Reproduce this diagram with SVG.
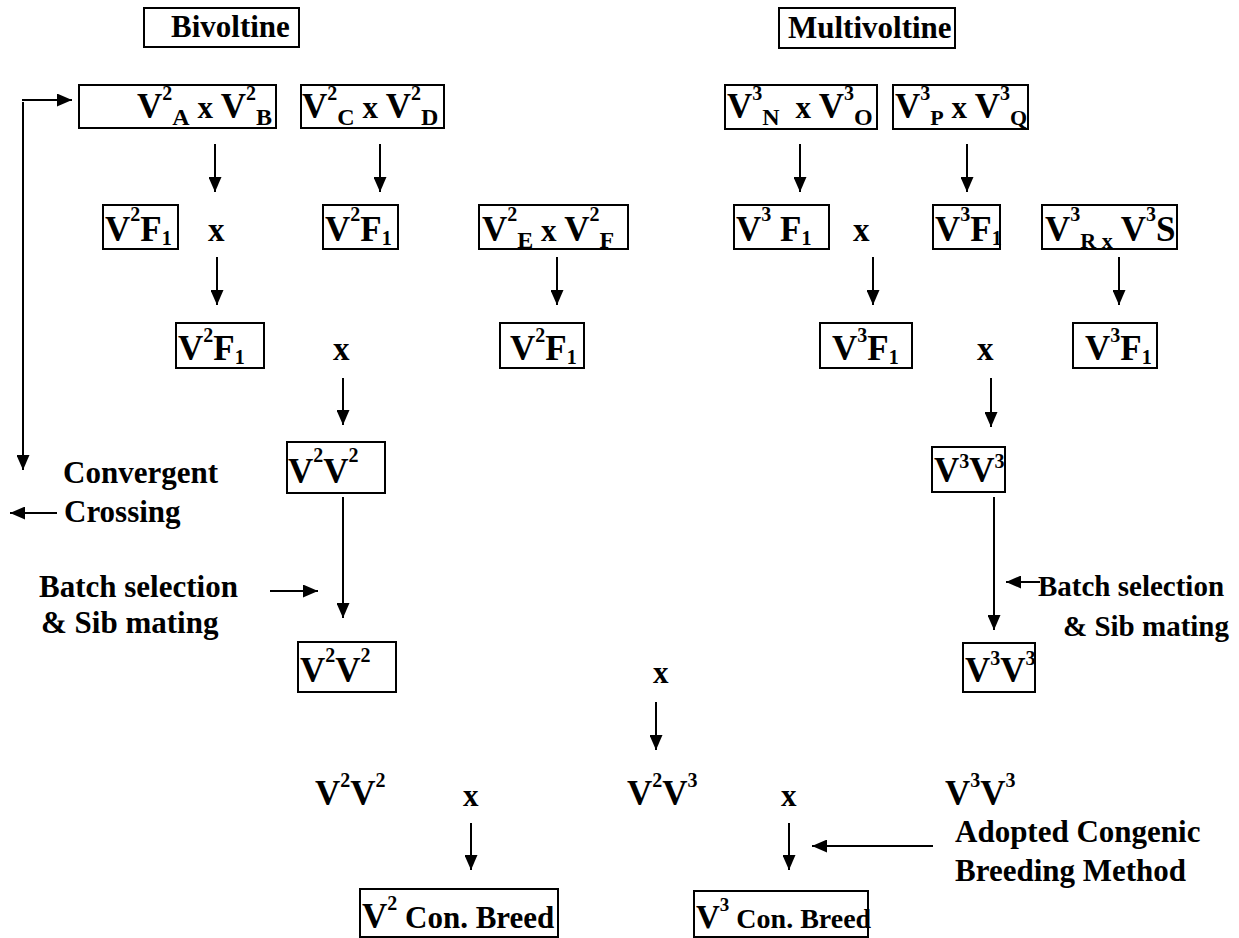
<svg xmlns="http://www.w3.org/2000/svg" width="1239" height="938" viewBox="0 0 1239 938" font-family="Liberation Serif, Times New Roman, DejaVu Serif, serif" font-weight="bold">
<style>
.t{font-family:'Liberation Serif','Times New Roman','DejaVu Serif',serif;font-weight:bold;fill:#000}
.l{font-size:31px}
.lr{font-size:29px}
.x{font-size:33px}
.v{font-size:35px}
.s{font-size:20px}
.u{font-size:24px}
.u2{font-size:22px}
rect{fill:#fff;stroke:#000;stroke-width:2}
#connectors line{stroke:#000;stroke-width:2;marker-end:url(#ah)}
</style>
<defs>
<marker id="ah" viewBox="0 0 15 13" refX="15" refY="6.5" markerWidth="15" markerHeight="13" orient="auto" markerUnits="userSpaceOnUse"><path d="M0,0 L15,6.5 L0,13 z" fill="#000"/></marker>
</defs>
<rect x="0" y="0" width="1239" height="938" style="stroke:none"/>
<g id="connectors">
<line x1="22" y1="100" x2="72" y2="100"/>
<line x1="23" y1="102" x2="23" y2="470"/>
<line x1="57" y1="513" x2="10" y2="513"/>
<line x1="215" y1="144" x2="215" y2="192"/>
<line x1="380" y1="144" x2="380" y2="192"/>
<line x1="800" y1="144" x2="800" y2="192"/>
<line x1="967" y1="144" x2="967" y2="192"/>
<line x1="217" y1="257" x2="217" y2="305"/>
<line x1="557" y1="257" x2="557" y2="305"/>
<line x1="873" y1="257" x2="873" y2="305"/>
<line x1="1119" y1="257" x2="1119" y2="305"/>
<line x1="343" y1="378" x2="343" y2="425"/>
<line x1="991" y1="378" x2="991" y2="427"/>
<line x1="343" y1="497" x2="343" y2="618"/>
<line x1="994" y1="497" x2="994" y2="630"/>
<line x1="270" y1="591" x2="318" y2="591"/>
<line x1="1040" y1="582" x2="1006" y2="582"/>
<line x1="656" y1="702" x2="656" y2="750"/>
<line x1="471" y1="823" x2="471" y2="870"/>
<line x1="789" y1="823" x2="789" y2="870"/>
<line x1="933" y1="846" x2="812" y2="846"/>
</g>
<g id="bivoltine"><rect x="144" y="8" width="155" height="39"/><text class="t l" x="171" y="37">Bivoltine</text></g>
<g id="multivoltine"><rect x="779" y="8" width="176" height="40"/><text class="t l" x="788" y="38">Multivoltine</text></g>
<g id="v2ab"><rect x="79" y="85" width="197" height="43"/><text class="t v" x="137" y="118">V<tspan class="s" dy="-18">2</tspan><tspan class="u" dy="25">A</tspan><tspan class="l" dy="-7"> x </tspan>V<tspan class="s" dy="-18">2</tspan><tspan class="u" dy="25">B</tspan></text></g>
<g id="v2cd"><rect x="301" y="85" width="143" height="43"/><text class="t v" x="302" y="118">V<tspan class="s" dy="-18">2</tspan><tspan class="u" dy="25">C</tspan><tspan class="l" dy="-7"> x </tspan>V<tspan class="s" dy="-18">2</tspan><tspan class="u" dy="25">D</tspan></text></g>
<g id="v3no"><rect x="725" y="85" width="152" height="44"/><text class="t v" x="727" y="118">V<tspan class="s" dy="-18">3</tspan><tspan class="u" dy="25">N</tspan><tspan class="l" dy="-7" dx="8"> x </tspan>V<tspan class="s" dy="-18">3</tspan><tspan class="u" dy="25">O</tspan></text></g>
<g id="v3pq"><rect x="893" y="85" width="135" height="44"/><text class="t v" x="895" y="118">V<tspan class="s" dy="-18">3</tspan><tspan class="u2" dy="25">P</tspan><tspan class="l" dy="-7"> x </tspan>V<tspan class="s" dy="-18">3</tspan><tspan class="u2" dy="25">Q</tspan></text></g>
<g id="r3a"><rect x="103" y="205" width="75" height="44"/><text class="t v" x="105" y="241">V<tspan class="s" dy="-20">2</tspan><tspan dy="20">F</tspan><tspan class="s" dy="4">1</tspan></text></g>
<g id="r3x1"><text class="t x" x="208" y="241">x</text></g>
<g id="r3b"><rect x="323" y="205" width="75" height="44"/><text class="t v" x="325" y="241">V<tspan class="s" dy="-20">2</tspan><tspan dy="20">F</tspan><tspan class="s" dy="4">1</tspan></text></g>
<g id="r3c"><rect x="479" y="205" width="149" height="44"/><text class="t v" x="482" y="241">V<tspan class="s" dy="-20">2</tspan><tspan class="u" dy="27">E</tspan><tspan class="l" dy="-7"> x </tspan>V<tspan class="s" dy="-20">2</tspan><tspan class="u" dy="27">F</tspan></text></g>
<g id="r3d"><rect x="734" y="205" width="95" height="44"/><text class="t v" x="736" y="241">V<tspan class="s" dy="-20">3</tspan><tspan dy="20"> F</tspan><tspan class="s" dy="4">1</tspan></text></g>
<g id="r3x2"><text class="t x" x="853" y="241">x</text></g>
<g id="r3e"><rect x="933" y="205" width="67" height="44"/><text class="t v" x="935" y="241">V<tspan class="s" dy="-20">3</tspan><tspan dy="20">F</tspan><tspan class="s" dy="4">1</tspan></text></g>
<g id="r3f"><rect x="1042" y="205" width="135" height="44"/><text class="t v" x="1045" y="241">V<tspan class="s" dy="-20">3</tspan><tspan class="u2" dy="27">R x</tspan><tspan dy="-7"> V</tspan><tspan class="s" dy="-20">3</tspan><tspan dy="20">S</tspan></text></g>
<g id="r4a"><rect x="176" y="323" width="88" height="45"/><text class="t v" x="178" y="360">V<tspan class="s" dy="-18">2</tspan><tspan dy="18">F</tspan><tspan class="s" dy="4">1</tspan></text></g>
<g id="r4x1"><text class="t x" x="333" y="360">x</text></g>
<g id="r4b"><rect x="500" y="323" width="84" height="45"/><text class="t v" x="510" y="360">V<tspan class="s" dy="-18">2</tspan><tspan dy="18">F</tspan><tspan class="s" dy="4">1</tspan></text></g>
<g id="r4c"><rect x="820" y="323" width="92" height="45"/><text class="t v" x="832" y="360">V<tspan class="s" dy="-18">3</tspan><tspan dy="18">F</tspan><tspan class="s" dy="4">1</tspan></text></g>
<g id="r4x2"><text class="t x" x="977" y="360">x</text></g>
<g id="r4d"><rect x="1073" y="323" width="84" height="45"/><text class="t v" x="1085" y="360">V<tspan class="s" dy="-18">3</tspan><tspan dy="18">F</tspan><tspan class="s" dy="4">1</tspan></text></g>
<g id="r5a"><rect x="287" y="442" width="98" height="51"/><text class="t v" x="288" y="483">V<tspan class="s" dy="-21">2</tspan><tspan dy="21">V</tspan><tspan class="s" dy="-21">2</tspan></text></g>
<g id="r5b"><rect x="932" y="447" width="73" height="45"/><text class="t v" x="934" y="482">V<tspan class="s" dy="-14">3</tspan><tspan dy="14">V</tspan><tspan class="s" dy="-14">3</tspan></text></g>
<g id="convergent"><text class="t l" x="63" y="483">Convergent</text><text class="t l" x="64" y="522">Crossing</text></g>
<g id="batch-left"><text class="t l" x="39" y="597">Batch selection</text><text class="t l" x="41" y="633">&amp; Sib mating</text></g>
<g id="batch-right"><text class="t lr" x="1038" y="596">Batch selection</text><text class="t lr" x="1063" y="636">&amp; Sib mating</text></g>
<g id="r6a"><rect x="298" y="642" width="98" height="50"/><text class="t v" x="300" y="682">V<tspan class="s" dy="-20">2</tspan><tspan dy="20">V</tspan><tspan class="s" dy="-20">2</tspan></text></g>
<g id="r6b"><rect x="963" y="643" width="72" height="49"/><text class="t v" x="965" y="682">V<tspan class="s" dy="-17">3</tspan><tspan dy="17">V</tspan><tspan class="s" dy="-17">3</tspan></text></g>
<g id="r6x"><text class="t l" x="653" y="683">x</text></g>
<g id="r7a"><text class="t v" x="315" y="805">V<tspan class="s" dy="-18">2</tspan><tspan dy="18">V</tspan><tspan class="s" dy="-18">2</tspan></text></g>
<g id="r7x1"><text class="t l" x="463" y="806">x</text></g>
<g id="r7b"><text class="t v" x="627" y="805">V<tspan class="s" dy="-18">2</tspan><tspan dy="18">V</tspan><tspan class="s" dy="-18">3</tspan></text></g>
<g id="r7x2"><text class="t l" x="781" y="806">x</text></g>
<g id="r7c"><text class="t v" x="945" y="805">V<tspan class="s" dy="-18">3</tspan><tspan dy="18">V</tspan><tspan class="s" dy="-18">3</tspan></text></g>
<g id="adopted"><text class="t l" x="955" y="842">Adopted Congenic</text><text class="t l" x="955" y="881">Breeding Method</text></g>
<g id="v2breed"><rect x="360" y="889" width="198" height="48"/><text class="t v" x="362" y="928">V<tspan class="s" dy="-18">2</tspan><tspan class="l" dy="18"> Con. Breed</tspan></text></g>
<g id="v3breed"><rect x="694" y="891" width="174" height="46"/><text class="t" font-size="33" x="696" y="928">V<tspan font-size="19" dy="-17">3</tspan><tspan font-size="28" dy="17"> Con. Breed</tspan></text></g>
</svg>
